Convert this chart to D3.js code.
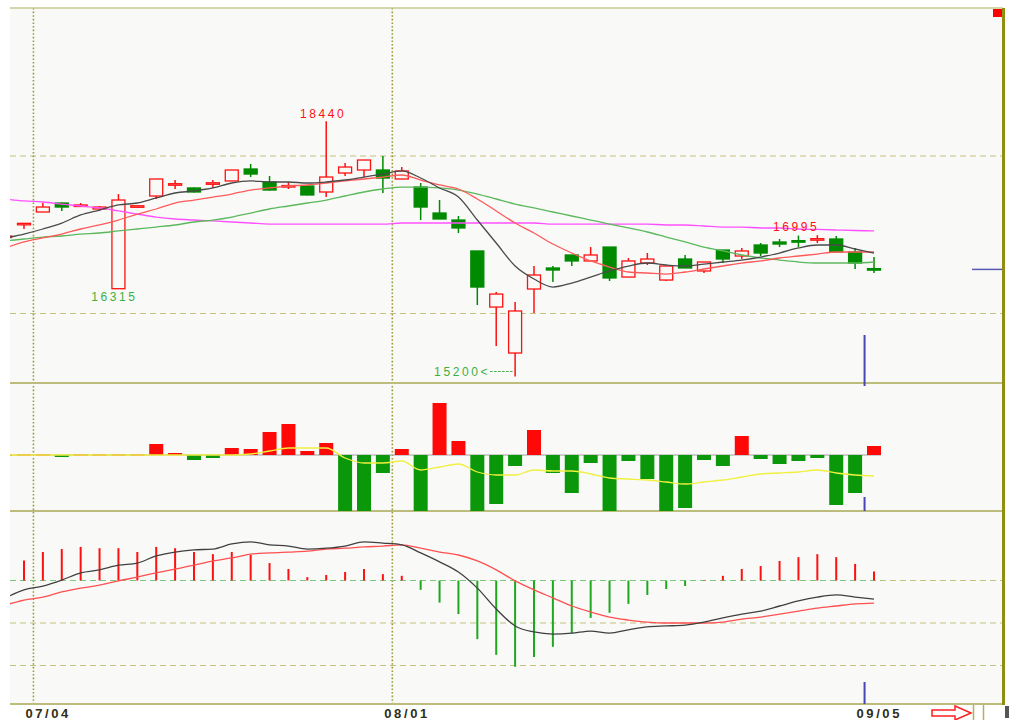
<!DOCTYPE html>
<html lang="en">
<head>
<meta charset="UTF-8">
<script src="https://d3js.org/d3.v7.min.js"></script>
<style>
    body {margin: 0; background-color: #fff}
    svg {display: block}
    text {font-family: "Liberation Sans", Arial, sans-serif}
</style>
</head>
<body>
<svg class="chart" width="1011" height="720"></svg>
<script>
    // trading days, first one is only partly visible at the left edge
    const dates = ["07/02","07/03","07/04","07/05","07/06","07/09","07/10","07/11","07/12","07/13",
        "07/17","07/18","07/19","07/20","07/23","07/24","07/25","07/26","07/27","07/30","07/31",
        "08/01","08/02","08/03","08/06","08/07","08/08","08/09","08/10","08/13","08/14","08/15",
        "08/16","08/17","08/20","08/21","08/22","08/23","08/24","08/27","08/28","08/29","08/30",
        "08/31","09/03","09/04","09/05"];

    const open = [16965,17136,17289,17403,17370,17327,16315,17365,17492,17640,17594,17650,17683,17835,17670,17615,
        17619,17543,17784,17822,17822,17708,17606,17276,17187,16794,16082,15498,16311,16578,16743,16667,16844,
        16463,16641,16425,16692,16540,16806,16730,16870,16908,16925,16940,16946,16781,16570];
    const high = [16997,17149,17403,17410,17403,17365,17517,17370,17708,17695,17600,17695,17822,17898,17746,17670,
        17625,18440,17911,17949,18000,17860,17657,17441,17238,16794,16273,16146,16603,16603,16743,16844,16844,
        16705,16768,16603,16743,16654,16806,16832,16895,16946,16990,16995,16985,16832,16717];
    const low = [16950,17073,17289,17302,17352,17302,16315,17360,17454,17581,17535,17594,17683,17733,17560,17581,
        17500,17479,17746,17733,17530,17708,17187,17200,17022,16108,15587,15200,16006,16400,16603,16667,16413,
        16463,16616,16413,16578,16514,16641,16692,16730,16844,16844,16895,16781,16565,16514];
    const close = [16984,17145,17352,17352,17378,17352,17441,17368,17708,17648,17543,17660,17822,17771,17568,17625,
        17505,17733,17860,17949,17720,17810,17352,17200,17086,16336,16247,16032,16489,16552,16667,16743,16451,
        16667,16692,16603,16578,16654,16692,16794,16768,16882,16915,16950,16781,16641,16560];

    const ma5 = [16959,17009,17073,17149,17251,17314,17378,17403,17467,17530,17556,17594,17657,17683,17670,17670,
        17657,17670,17695,17733,17771,17810,17721,17594,17479,17187,16895,16603,16438,16336,16387,16463,16540,
        16603,16641,16616,16603,16628,16654,16679,16717,16768,16832,16870,16870,16819,16768];
    const ma10 = [16832,16908,16959,17009,17073,17124,17187,17263,17327,17403,17441,17479,17517,17568,17594,17619,
        17632,17657,17683,17708,17733,17759,17695,17632,17581,17454,17302,17149,17022,16882,16768,16667,16590,
        16527,16514,16501,16527,16565,16603,16641,16667,16705,16730,16755,16781,16781,16781];
    const ma20 = [16921,16946,16971,16984,17009,17022,17048,17073,17098,17124,17162,17187,17225,17276,17327,17365,
        17403,17441,17492,17543,17581,17606,17606,17594,17568,17517,17454,17390,17340,17289,17238,17187,17136,
        17086,17035,16971,16908,16844,16794,16743,16705,16679,16654,16641,16641,16641,16654];
    const ma60 = [17454,17429,17416,17390,17365,17340,17302,17263,17225,17200,17187,17175,17162,17149,17136,17136,
        17136,17136,17136,17136,17136,17149,17149,17149,17149,17149,17149,17149,17149,17136,17136,17136,17136,
        17136,17136,17124,17124,17111,17098,17098,17086,17086,17073,17067,17060,17054,17048];

    const flow = [0,0.5,0.5,-2,0.5,0.5,0.5,0.5,11,2,-5,-3,7,6,23,31,4,12,-70,-70,-18,6,-70,52,14,-70,-49,-11,25,
        -18,-38,-8,-70,-6,-24,-70,-53,-5,-11,19,-4,-9,-6,-3,-50,-38,9];
    const flowMa = [0,0,0,0,0,0,0,0,0,0,0,0,0,1,4,7,7,7,-3,-8,-8,-6,-15,-12,-9,-17,-20,-20,-15,-16,-16,-19,-23,
        -24,-25,-27,-29,-27,-25,-22,-19,-18,-17,-15,-18,-20,-21];

    const macdBar = [40,47,67,74,79,76,76,67,79,76,67,62,67,60,41,27,8,13,20,27,15,11,-22,-52,-79,-138,-175,-203,
        -180,-156,-124,-88,-76,-55,-34,-20,-13,1,11,27,34,46,55,62,55,39,21];
    const dif = [-41,-22,-13,1,18,25,36,41,58,67,72,74,86,91,84,81,74,76,81,91,88,84,65,44,20,-18,-67,-107,-121,
        -126,-124,-119,-124,-116,-109,-107,-105,-98,-88,-79,-72,-60,-48,-39,-34,-39,-44];
    const dea = [-58,-46,-39,-27,-18,-11,-1,8,18,27,36,46,53,62,65,67,69,74,76,79,81,84,76,67,60,46,25,-1,-22,-41,
        -60,-74,-86,-93,-98,-100,-100,-100,-98,-91,-86,-79,-72,-65,-60,-55,-53];

    const markDates = ["07/04", "08/01"];
    const endDate = "09/05";
    const priceGrid = [16000, 18000];
    const macdGrid = [0, -100, -200];

    // layout
    let L = 10, R = 1003, T = 8, S1 = 383, S2 = 511, B = 704;
    const RED = '#ff1010', GREEN = '#008a00';

    var svg = d3.select('.chart');
    var x = d3.scalePoint().domain(dates).range([5.1, 874]);
    let step = x.step();
    var yP = d3.scaleLinear().domain([16000, 18000]).range([313.5, 156]);
    var yV = d3.scaleLinear().domain([0, 50]).range([455, 405]);
    var yM = d3.scaleLinear().domain([0, -200]).range([580.5, 665.5]);
    const idx = d3.range(dates.length);
    const cx = i => x(dates[i]);

    svg.append('rect').attr('x', L).attr('y', T).attr('width', R - L).attr('height', B - T).attr('fill', '#f9f9f8');

    let defs = svg.append('defs');
    [['cp', T, S1], ['cv', S1, S2], ['cm', S2, B]].forEach(c => {
        defs.append('clipPath').attr('id', c[0]).append('rect')
            .attr('x', L).attr('y', c[1]).attr('width', R - L - 2).attr('height', c[2] - c[1]);
    });

    // grid
    priceGrid.forEach(v => {
        svg.append('line').attr('x1', L).attr('x2', R).attr('y1', yP(v)).attr('y2', yP(v))
            .attr('stroke', '#c2c27e').attr('stroke-width', 1.2).attr('stroke-dasharray', '6,4');
    });
    macdGrid.forEach(v => {
        svg.append('line').attr('x1', L).attr('x2', R).attr('y1', yM(v)).attr('y2', yM(v))
            .attr('stroke', '#c2c27e').attr('stroke-width', 1.2).attr('stroke-dasharray', '6,4');
    });
    markDates.forEach(d => {
        svg.append('line').attr('x1', x(d) - step / 2).attr('x2', x(d) - step / 2).attr('y1', T).attr('y2', B)
            .attr('stroke', '#9c9c38').attr('stroke-width', 1.6).attr('stroke-dasharray', '1.6,2');
    });
    svg.append('line').attr('x1', L).attr('x2', R).attr('y1', T).attr('y2', T).attr('stroke', '#c8c890').attr('stroke-width', 1.5);
    [S1, S2, B].forEach(yy => {
        svg.append('line').attr('x1', L).attr('x2', R).attr('y1', yy).attr('y2', yy).attr('stroke', '#bcbc7c').attr('stroke-width', 2);
    });

    // price panel
    var gP = svg.append('g').attr('clip-path', 'url(#cp)');
    let up = i => close[i] >= open[i];
    var c = gP.selectAll('g.k').data(idx).enter().append('g');
    c.append('line')
        .attr('x1', cx).attr('x2', cx)
        .attr('y1', i => yP(high[i])).attr('y2', i => yP(low[i]))
        .attr('stroke', i => up(i) ? RED : GREEN).attr('stroke-width', 1.5);
    c.append('rect')
        .attr('x', i => cx(i) - 6.5).attr('width', 13)
        .attr('y', i => yP(Math.max(open[i], close[i])))
        .attr('height', i => Math.max(1.5, Math.abs(yP(open[i]) - yP(close[i]))))
        .attr('fill', i => up(i) ? '#f9f9f8' : GREEN)
        .attr('stroke', i => up(i) ? RED : GREEN).attr('stroke-width', 1.3);

    [[ma60, '#ff50ff'], [ma20, '#5cb85c'], [ma10, '#ff5a5a'], [ma5, '#4a4a4a']].forEach(m => {
        gP.append('path').datum(m[0])
            .attr('d', d3.line().curve(d3.curveMonotoneX).x((d, i) => cx(i)).y(d => yP(d)))
            .attr('fill', 'none').attr('stroke', m[1]).attr('stroke-width', 1.3);
    });

    // price notes
    function note(txt, xx, yy, col, anchor) {
        svg.append('text').attr('x', xx).attr('y', yy).attr('fill', col).attr('text-anchor', anchor)
            .attr('font-size', 12).attr('letter-spacing', 2.6).text(txt);
    }
    let iMax = d3.maxIndex(high), iMin = d3.minIndex(low);
    note(high[iMax], cx(iMax) - 3, yP(high[iMax]) - 3, RED, 'middle');
    note(low[6], cx(6) - 4, yP(low[6]) + 12, '#3cb043', 'middle');
    note(high[43], cx(43) + 2, yP(high[43]) - 4, RED, 'end');
    note(low[iMin] + '<', cx(iMin) - 25, yP(low[iMin]) - 1, '#3cb043', 'end');
    svg.append('line').attr('x1', cx(iMin) - 25).attr('x2', cx(iMin) - 1)
        .attr('y1', yP(low[iMin]) - 5).attr('y2', yP(low[iMin]) - 5)
        .attr('stroke', '#3cb043').attr('stroke-dasharray', '2.5,1.5');

    // flow panel
    var gV = svg.append('g').attr('clip-path', 'url(#cv)');
    gV.append('line').attr('x1', L).attr('x2', cx(idx.length - 1) + 7).attr('y1', yV(0)).attr('y2', yV(0))
        .attr('stroke', '#a0a0a0');
    gV.selectAll('rect.v').data(idx).enter().append('rect')
        .attr('x', i => cx(i) - 7).attr('width', 14)
        .attr('y', i => flow[i] >= 0 ? yV(flow[i]) : yV(0))
        .attr('height', i => Math.max(1, Math.abs(yV(flow[i]) - yV(0))))
        .attr('fill', i => flow[i] >= 0 ? '#ff0808' : '#0a980a');
    gV.append('path').datum(flowMa)
        .attr('d', d3.line().curve(d3.curveMonotoneX).x((d, i) => cx(i)).y(d => yV(d)))
        .attr('fill', 'none').attr('stroke', '#f0f040').attr('stroke-width', 1.3);

    // macd panel
    var gM = svg.append('g').attr('clip-path', 'url(#cm)');
    gM.append('line').attr('x1', L).attr('x2', cx(idx.length - 1) + 7).attr('y1', yM(0)).attr('y2', yM(0))
        .attr('stroke', '#7cc87c').attr('stroke-dasharray', '6,4');
    gM.selectAll('line.m').data(idx).enter().append('line')
        .attr('x1', cx).attr('x2', cx)
        .attr('y1', yM(0)).attr('y2', i => yM(macdBar[i]))
        .attr('stroke', i => macdBar[i] >= 0 ? '#ff1010' : '#1ea81e').attr('stroke-width', 2);
    [[dea, '#ff5050'], [dif, '#404040']].forEach(m => {
        gM.append('path').datum(m[0])
            .attr('d', d3.line().curve(d3.curveMonotoneX).x((d, i) => cx(i)).y(d => yM(d)))
            .attr('fill', 'none').attr('stroke', m[1]).attr('stroke-width', 1.3);
    });

    // cursor on the last day
    let xc = x(endDate) - step / 2;
    [[S1 - 48, S1 + 3], [S2 - 14, S2], [B - 22, B]].forEach(s => {
        svg.append('line').attr('x1', xc).attr('x2', xc).attr('y1', s[0]).attr('y2', s[1])
            .attr('stroke', '#4646b4').attr('stroke-width', 2);
    });
    svg.append('line').attr('x1', 972).attr('x2', R).attr('y1', yP(close[close.length - 1])).attr('y2', yP(close[close.length - 1]))
        .attr('stroke', '#5a5ab4').attr('stroke-width', 1.5);

    // frame bits
    svg.append('line').attr('x1', R + 0.5).attr('x2', R + 0.5).attr('y1', T).attr('y2', B + 1)
        .attr('stroke', '#8f8f14').attr('stroke-width', 3);
    svg.append('rect').attr('x', 993).attr('y', 9).attr('width', 9).attr('height', 8).attr('fill', '#ff0000');

    markDates.concat([endDate]).forEach(d => {
        svg.append('text').attr('x', x(d) - 17.5).attr('y', 718)
            .attr('font-family', 'DejaVu Sans').attr('font-weight', 'bold').attr('font-size', 13)
            .attr('letter-spacing', 2.6).attr('fill', '#2e2e18').text(d);
    });

    svg.append('polygon')
        .attr('points', [[932, 710], [955, 710], [955, 706], [971, 713], [955, 720], [955, 716], [932, 716]].join(' '))
        .attr('fill', '#fff').attr('stroke', '#ff2020').attr('stroke-width', 1.5);
    [973.5, 983.5].forEach(xx => {
        svg.append('line').attr('x1', xx).attr('x2', xx).attr('y1', 705).attr('y2', 720).attr('stroke', '#b0b060').attr('stroke-width', 1.5);
    });
    svg.append('rect').attr('x', 1005).attr('y', 706).attr('width', 4).attr('height', 12).attr('fill', '#555');
</script>
</body>
</html>
